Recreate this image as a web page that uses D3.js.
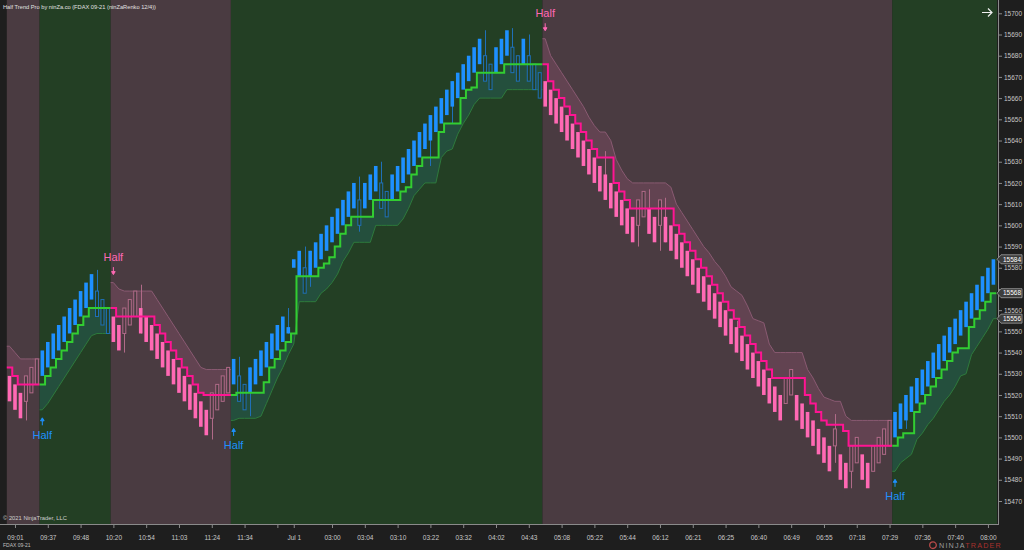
<!DOCTYPE html>
<html><head><meta charset="utf-8">
<script src="https://cdn.jsdelivr.net/npm/d3@7"></script>
<style>body{margin:0;background:#1e1e1e;overflow:hidden}svg{display:block;font-family:"Liberation Sans",Arial,sans-serif}</style>
</head><body>
<svg id="c" width="1024" height="550"></svg>
<script>
// ---------- DATA ----------
const barOpen = [
15529,15525,15521,15517,15521,15525,15529,15533,15537,15541,
15545,15549,15553,15557,15561,15565,15569,15565,15561,15557,
15553,15549,15553,15557,15561,15557,15553,15549,15545,15541,
15537,15533,15529,15525,15521,15517,15513,15509,15513,15517,
15521,15525,15529,15525,15521,15525,15529,15533,15537,15541,
15545,15549,15580,15576,15580,15576,15580,15584,15588,15592,
15596,15600,15604,15608,15612,15608,15612,15616,15620,15616,
15612,15616,15620,15624,15628,15632,15636,15640,15644,15648,
15652,15656,15660,15664,15668,15672,15676,15680,15676,15672,
15676,15680,15684,15680,15676,15680,15676,15672,15668,15664,
15660,15656,15652,15648,15644,15640,15636,15632,15628,15624,
15620,15616,15612,15608,15604,15600,15604,15608,15604,15600,
15604,15600,15596,15592,15588,15584,15580,15576,15572,15568,
15564,15560,15556,15552,15548,15544,15540,15536,15532,15528,
15524,15520,15516,15520,15520,15516,15512,15508,15504,15500,
15496,15496,15492,15488,15484,15488,15492,15488,15484,15488,
15492,15496,15500,15504,15508,15512,15516,15520,15524,15528,
15532,15536,15540,15544,15548,15552,15556,15560,15564,15568,
15572];
const barClose = [
15517,15513,15509,15529,15533,15537,15541,15545,15549,15553,
15557,15561,15565,15569,15573,15577,15557,15553,15549,15545,
15541,15561,15565,15569,15549,15545,15541,15537,15533,15529,
15525,15521,15517,15513,15509,15505,15501,15521,15525,15529,
15533,15537,15517,15513,15533,15537,15541,15545,15549,15553,
15557,15552,15584,15588,15568,15588,15592,15596,15600,15604,
15608,15612,15616,15620,15600,15620,15624,15628,15608,15604,
15624,15628,15632,15636,15640,15644,15648,15652,15656,15660,
15664,15668,15672,15676,15680,15684,15688,15668,15664,15684,
15688,15692,15672,15668,15688,15668,15664,15660,15656,15652,
15648,15644,15640,15636,15632,15628,15624,15620,15616,15612,
15608,15604,15600,15596,15592,15612,15616,15596,15592,15612,
15592,15588,15584,15580,15576,15572,15568,15564,15560,15556,
15552,15548,15544,15540,15536,15532,15528,15524,15520,15516,
15512,15508,15528,15532,15508,15504,15500,15496,15492,15488,
15484,15504,15480,15476,15496,15500,15480,15476,15496,15500,
15504,15508,15512,15516,15520,15524,15528,15532,15536,15540,
15544,15548,15552,15556,15560,15564,15568,15572,15576,15580,
15584];
// wick extremes beyond the body: [bar, price]
const wickHigh = [[16,15579],[24,15572],[42,15538],[51,15561],[54,15590],[64,15623],[68,15630],[87,15692],[92,15693],[95,15690],[109,15635],[117,15617],[120,15613],[133,15555],[151,15511]];
const wickLow  = [[3,15508],[21,15540],[37,15499],[44,15510],[55,15571],[64,15597],[77,15628],[81,15648],[115,15590],[119,15588],[151,15488],[154,15476],[164,15504]];
const halfTrend = [
15533,15529,15525,15525,15525,15525,15525,15529,15533,15537,
15541,15545,15549,15553,15557,15561,15561,15561,15561,15561,
15557,15557,15557,15557,15557,15557,15557,15553,15549,15545,
15541,15537,15533,15529,15525,15521,15520,15520,15520,15520,
15520,15520,15521,15521,15521,15521,15521,15526,15533,15537,
15541,15545,15549,15576,15576,15576,15576,15580,15582,15585,
15590,15596,15600,15604,15604,15604,15604,15612,15612,15612,
15612,15612,15616,15618,15624,15628,15632,15632,15632,15644,
15648,15648,15648,15660,15664,15665,15672,15672,15672,15672,
15672,15676,15676,15676,15676,15676,15676,15676,15676,15668,
15664,15660,15656,15652,15648,15644,15640,15636,15632,15632,
15632,15620,15616,15612,15608,15608,15608,15608,15608,15608,
15608,15608,15600,15596,15592,15588,15584,15580,15576,15572,
15568,15564,15560,15556,15552,15548,15544,15540,15536,15532,
15528,15528,15528,15528,15528,15528,15520,15516,15512,15508,
15506,15506,15506,15503,15496,15496,15496,15496,15496,15496,
15496,15496,15496,15500,15502,15502,15512,15516,15520,15524,
15528,15532,15536,15540,15542,15542,15552,15556,15560,15564,
15568];
const bandEdge = [
15543,15540,15537,15537,15537,15537,15513,15516,15520,15524,
15528,15532,15536,15540,15544,15548,15549,15549,15549,15573,
15570,15569,15569,15569,15569,15569,15569,15565,15561,15557,
15553,15549,15545,15541,15537,15533,15532,15532,15532,15532,
15532,15508,15509,15509,15509,15509,15510,15516,15522,15528,
15533,15539,15544,15564,15564,15564,15564,15568,15570,15573,
15577,15583,15587,15592,15592,15592,15592,15600,15600,15600,
15600,15600,15603,15608,15614,15617,15620,15620,15620,15632,
15635,15636,15643,15648,15652,15657,15660,15660,15660,15660,
15660,15664,15664,15664,15664,15664,15664,15664,15688,15680,
15676,15672,15668,15664,15660,15656,15651,15647,15644,15644,
15640,15631,15626,15622,15620,15620,15620,15620,15620,15620,
15620,15618,15610,15606,15602,15598,15594,15590,15587,15583,
15580,15576,15571,15569,15567,15562,15556,15555,15554,15544,
15540,15540,15540,15540,15540,15540,15532,15528,15523,15519,
15518,15517,15517,15510,15508,15508,15508,15508,15508,15508,
15508,15508,15484,15488,15490,15492,15499,15502,15506,15509,
15513,15517,15520,15524,15529,15530,15539,15543,15547,15551,
15556];
// trend segments: first bar and direction (1 = up, -1 = down)
const segStart = [0, 6, 19, 41, 98, 162];
const segDir   = [-1, 1, -1, 1, -1, 1];
const timeTickBars   = [1,7,13,19,25,31,37,43,49,52,59,65,71,77,83,89,95,101,107,113,119,125,131,137,143,149,155,161,167,173,179];
const timeTickLabels = ["09:01","09:37","09:48","10:20","10:54","11:03","11:24","11:34","","Jul 1","03:00","03:04","03:10","03:22","03:32","04:02","04:43","05:08","05:22","05:44","06:12","06:21","06:25","06:40","06:49","06:55","07:18","07:29","07:36","07:40","08:00"];
const priceTicks = d3.range(15470, 15701, 10);

// ---------- LAYOUT ----------
const N = barOpen.length;
const plotRight = 997, plotBottom = 524;
const x = d3.scaleLinear().domain([0, 180]).range([9.53, 9.53 + 180 * 5.466]);
const bw = x(1) - x(0);
const y = d3.scaleLinear().domain([15470, 15700]).range([501, 13.3]);
const C = {
  bg: "#1e1e1e", bgDown: "#4a3b41", bgUp: "#233f24",
  blue: "#1e90ff", pink: "#ff69b4", blueLine: "#1f70b8", pinkLine: "#b06a88",
  htUp: "#32cd32", htDown: "#ff1493",
  bandUp: "rgba(40,110,110,0.35)", bandUpEdge: "#2e7a3c",
  bandDown: "rgba(170,90,130,0.25)", bandDownEdge: "#8a5a72",
  text: "#c8c8c8"
};
const svg = d3.select("#c");
svg.append("rect").attr("width", 1024).attr("height", 550).attr("fill", C.bg);

const segs = segStart.map((s, k) => ({a: s, b: k < segStart.length - 1 ? segStart[k+1] - 1 : N - 1, dir: segDir[k]}));
const dirOf = i => segs.find(s => i >= s.a && i <= s.b).dir;

const plot = svg.append("g");
plot.append("clipPath").attr("id","pc").append("rect").attr("x",0).attr("y",0).attr("width",plotRight).attr("height",plotBottom);
const g = plot.append("g").attr("clip-path","url(#pc)");

// backgrounds
g.selectAll("rect.bg").data(segs).join("rect")
  .attr("x", d => x(d.a) - bw/2)
  .attr("width", d => (d.b === N-1 ? plotRight : x(d.b) + bw/2) - (x(d.a) - bw/2))
  .attr("y", 0).attr("height", plotBottom)
  .attr("fill", d => d.dir > 0 ? C.bgUp : C.bgDown);

// bands
const line = d3.line();
segs.forEach(s => {
  const edge = [[x(s.a) - bw/2, y(bandEdge[s.a])]];
  for (let i = s.a; i <= s.b; i++) edge.push([x(i), y(bandEdge[i])]);
  edge.push([x(s.b) + bw/2, y(bandEdge[s.b])]);
  const back = [];
  for (let i = s.b; i >= s.a; i--) { back.push([x(i) + bw/2, y(halfTrend[i])]); back.push([x(i) - bw/2, y(halfTrend[i])]); }
  g.append("path").attr("d", line(edge.concat(back)) + "Z")
    .attr("fill", s.dir > 0 ? C.bandUp : C.bandDown);
  g.append("path").attr("d", line(edge)).attr("fill", "none")
    .attr("stroke", s.dir > 0 ? C.bandUpEdge : C.bandDownEdge).attr("stroke-width", 1);
});

// bars
const hiMap = new Map(wickHigh), loMap = new Map(wickLow);
const bars = d3.range(N).map(i => {
  const o = barOpen[i], c = barClose[i], dir = dirOf(i);
  const top = Math.max(o, c), bot = Math.min(o, c);
  const filled = (c > o) === (dir > 0);
  return {i, top, bot, dir, filled, hi: Math.max(top, hiMap.get(i) ?? top), lo: Math.min(bot, loMap.get(i) ?? bot)};
});
g.selectAll("line.wick").data(bars.filter(b => b.hi > b.top || b.lo < b.bot)).join("line")
  .attr("x1", b => Math.round(x(b.i)) + 0.5).attr("x2", b => Math.round(x(b.i)) + 0.5)
  .attr("y1", b => y(b.hi)).attr("y2", b => y(b.lo))
  .attr("stroke", b => b.dir > 0 ? C.blueLine : C.pinkLine).attr("stroke-width", 1);
g.selectAll("rect.bar").data(bars).join("rect")
  .attr("x", b => b.filled ? x(b.i) - 1.8 : x(b.i) - 1.5)
  .attr("width", b => b.filled ? 3.6 : 3)
  .attr("y", b => y(b.top)).attr("height", b => Math.max(1, y(b.bot) - y(b.top)))
  .attr("fill", b => b.filled ? (b.dir > 0 ? C.blue : C.pink) : (b.dir > 0 ? C.bgUp : C.bgDown))
  .attr("stroke", b => b.filled ? "none" : (b.dir > 0 ? C.blueLine : C.pinkLine))
  .attr("stroke-width", 1);

// half trend step line
segs.forEach((s, k) => {
  const pts = [];
  if (k > 0) pts.push([x(s.a) - bw/2, y(halfTrend[s.a - 1])]);
  for (let i = s.a; i <= s.b; i++) { pts.push([x(i) - bw/2, y(halfTrend[i])]); pts.push([x(i) + bw/2, y(halfTrend[i])]); }
  g.append("path").attr("d", line(pts)).attr("fill", "none")
    .attr("stroke", s.dir > 0 ? C.htUp : C.htDown).attr("stroke-width", 2);
});

// signals
segs.slice(1).forEach(s => {
  const cx = x(s.a), e = y(bandEdge[s.a]), up = s.dir > 0;
  const col = up ? C.blue : C.pink;
  const ay = up ? e + 12 : e - 12;
  const d = up ? `M${cx},${ay-4}L${cx-1.8},${ay-1}L${cx+1.8},${ay-1}Z M${cx},${ay-1}V${ay+3.5}`
               : `M${cx},${ay+4}L${cx-1.8},${ay+1}L${cx+1.8},${ay+1}Z M${cx},${ay+1}V${ay-3.5}`;
  g.append("path").attr("d", d).attr("fill", col).attr("stroke", col).attr("stroke-width", 1);
  g.append("text").attr("x", cx).attr("y", up ? e + 29 : e - 22).attr("text-anchor", "middle")
    .attr("fill", col).attr("font-size", 11).text("Half");
});

// axes frame
svg.append("line").attr("x1", 998.5).attr("x2", 998.5).attr("y1", 0).attr("y2", plotBottom + 1).attr("stroke", "#8a8a8a");
svg.append("line").attr("x1", 0).attr("x2", 999).attr("y1", plotBottom + 0.5).attr("y2", plotBottom + 0.5).attr("stroke", "#8a8a8a");

// price markers on the axis (last close, last half-trend, last band edge)
const last = N - 1;
const markers = [barClose[last], halfTrend[last], bandEdge[last]];

// right axis
const ya = svg.append("g").attr("transform", "translate(999,0)")
  .call(d3.axisRight(y).tickValues(priceTicks).tickSize(3).tickPadding(2).tickFormat(d3.format("d")));
ya.select(".domain").remove();
ya.selectAll("line").attr("stroke", "#8a8a8a");
ya.selectAll("text").attr("fill", C.text).attr("font-size", 6.5).attr("font-family", "Liberation Sans, Arial")
  .style("display", d => markers.some(m => Math.abs(y(m) - y(d)) < 7) ? "none" : null);

// bottom axis
const xa = svg.append("g").attr("transform", `translate(0,${plotBottom + 1})`)
  .call(d3.axisBottom(x).tickValues(timeTickBars).tickSize(3).tickPadding(7)
    .tickFormat((d, k) => timeTickLabels[k]));
xa.select(".domain").remove();
xa.selectAll("line").attr("stroke", "#8a8a8a");
xa.selectAll("text").attr("fill", C.text).attr("font-size", 6.5).attr("font-family", "Liberation Sans, Arial");

markers.forEach(v => {
  const yy = y(v);
  svg.append("path").attr("d", `M997,${yy}L1001,${yy-4.5}H1022V${yy+4.5}H1001Z`)
    .attr("fill", "#3d3d3d").attr("stroke", "#a0a0a0").attr("stroke-width", 0.8);
  svg.append("text").attr("x", 1003).attr("y", yy).attr("dy", "0.35em").attr("fill", "#ffffff")
    .attr("font-size", 6.5).text(v);
});

// texts
svg.append("text").attr("x", 3).attr("y", 9).attr("fill", "#e0e0e0").attr("font-size", 5.7)
  .text("Half Trend Pro by ninZa.co (FDAX 09-21 (ninZaRenko 12/4))");
svg.append("text").attr("x", 3).attr("y", 520).attr("fill", "#d0d0d0").attr("font-size", 5.8)
  .text("© 2021 NinjaTrader, LLC");
svg.append("text").attr("x", 3).attr("y", 547).attr("fill", "#c0c0c0").attr("font-size", 5)
  .text("FDAX 09-21");
svg.append("path").attr("d", "M982,12.5H992M988,8.5L992,12.5L988,16.5").attr("fill", "none")
  .attr("stroke", "#f0f0f0").attr("stroke-width", 1.2);
// logo
const lg = svg.append("g").attr("transform", "translate(933,548)");
lg.append("circle").attr("cx", 0).attr("cy", -2.8).attr("r", 3.3).attr("fill", "none").attr("stroke", "#b84a4a").attr("stroke-width", 1.3);
lg.append("text").attr("x", 6).attr("y", 0).attr("font-size", 7.2).attr("letter-spacing", 1.2)
  .attr("fill", "#9a9a9a").text("NINJA")
  .append("tspan").attr("fill", "#a8302c").text("TRADER");
</script>
</body></html>
